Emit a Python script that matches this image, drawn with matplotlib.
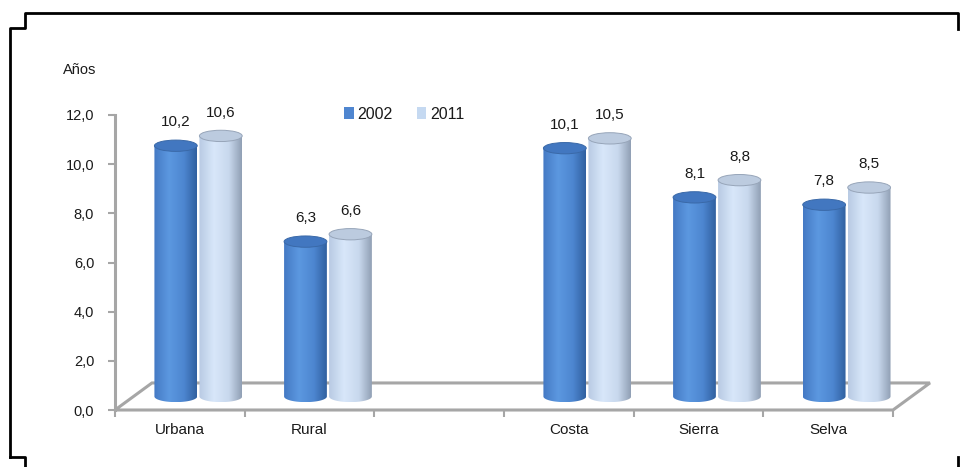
import numpy as np
import matplotlib
matplotlib.use("Agg")
import matplotlib.pyplot as plt
from matplotlib.patches import Polygon, Ellipse, PathPatch, Patch
from matplotlib.path import Path
from matplotlib.colors import LinearSegmentedColormap
from matplotlib.lines import Line2D

plt.rcParams['font.family'] = ['Liberation Sans', 'DejaVu Sans']

categories = ['Urbana', 'Rural', '', 'Costa', 'Sierra', 'Selva']
anos_2002 = [10.2, 6.3, None, 10.1, 8.1, 7.8]
anos_2011 = [10.6, 6.6, None, 10.5, 8.8, 8.5]
series_names = ['2002', '2011']
y_ticks = [0, 2, 4, 6, 8, 10, 12]

W, H = 960, 467
fig = plt.figure(figsize=(W / 100, H / 100), dpi=100)
fig.patch.set_facecolor('white')

# axes placed in pixels: x 115..893, y 410..115
ax = fig.add_axes([115 / W, (H - 410) / H, 778 / W, 295 / H])
ax.set_xlim(0, 6)
ax.set_ylim(0, 12)
ax.patch.set_alpha(0)

# depth of the 3d floor, in data units
dx, dy = 0.285, 1.10
grey = '#a6a6a6'
txt = '#1a1a1a'

floor = Polygon([(0, 0), (6, 0), (6 + dx, dy), (dx, dy)], closed=True,
                facecolor='white', edgecolor=grey, linewidth=2.2,
                clip_on=False, zorder=1)
ax.add_patch(floor)

for s in ['top', 'right', 'bottom']:
    ax.spines[s].set_visible(False)
ax.spines['left'].set_color(grey)
ax.spines['left'].set_linewidth(2.2)

ax.set_yticks(y_ticks)
ax.set_yticklabels([f'{v:.1f}'.replace('.', ',') for v in y_ticks],
                   fontsize=10.5, color=txt)
ax.set_xticks(np.arange(0, 7))
ax.set_xticklabels([])
ax.set_xticks(np.arange(6) + 0.5, minor=True)
ax.set_xticklabels(categories, minor=True, fontsize=11, color=txt)
ax.tick_params(axis='x', which='minor', length=0, pad=9)
ax.tick_params(axis='x', which='major', length=5, width=1.5, color=grey,
               direction='out')
ax.tick_params(axis='y', length=5, width=1.5, color=grey, pad=10)

c2002 = LinearSegmentedColormap.from_list('c2002', [
    (0.0, '#4479c4'), (0.35, '#5c98e0'), (0.7, '#4d86d0'), (1.0, '#30609f')])
c2011 = LinearSegmentedColormap.from_list('c2011', [
    (0.0, '#b8cae3'), (0.35, '#d8e7fa'), (0.7, '#c8d8ed'), (1.0, '#909fb4')])
styles = [
    dict(cmap=c2002, top='#4277c0', edge='#3a69a8'),
    dict(cmap=c2011, top='#bccbdf', edge='#97a5b9'),
]

bar_w = 0.33
bar_gap = 0.347
eh = 0.23  # half height of the ellipse caps
base = dy / 2
grad = np.linspace(0, 1, 256).reshape(1, -1)


def cylinder(xc, h, st):
    x0, x1 = xc - bar_w / 2, xc + bar_w / 2
    t = np.linspace(np.pi, 2 * np.pi, 40)
    arc = np.column_stack([xc + bar_w / 2 * np.cos(t), base + eh * np.sin(t)])
    verts = np.vstack([[(x0, base + h)], arc, [(x1, base + h), (x0, base + h)]])
    body = PathPatch(Path(verts, closed=True), facecolor='none',
                     edgecolor='none', zorder=3)
    ax.add_patch(body)
    im = ax.imshow(grad, cmap=st['cmap'], aspect='auto',
                   extent=[x0, x1, base - eh, base + h],
                   interpolation='bicubic', zorder=3)
    im.set_clip_path(body)
    cap = Ellipse((xc, base + h), bar_w, 2 * eh, facecolor=st['top'],
                  edgecolor=st['edge'], linewidth=0.7, zorder=4)
    ax.add_patch(cap)


for i, cat in enumerate(categories):
    center = i + 0.5 + dx / 2
    for k, vals in enumerate([anos_2002, anos_2011]):
        v = vals[i]
        if v is None:
            continue
        xc = center + (k - 0.5) * bar_gap
        cylinder(xc, v, styles[k])
        ax.text(xc, base + v + 0.95, f'{v:.1f}'.replace('.', ','),
                ha='center', va='center', fontsize=11, color=txt)

ax.set_xlim(0, 6)
ax.set_ylim(0, 12)

# legend
handles = [Patch(facecolor='#4f86d0', edgecolor='none'),
           Patch(facecolor='#c5d9f1', edgecolor='none')]
fig.legend(handles, series_names, loc='center left',
           bbox_to_anchor=(336 / W, 1 - 114 / H), ncol=2, frameon=False,
           fontsize=11.5, handlelength=0.6, handleheight=0.7,
           handletextpad=0.25, columnspacing=1.5, borderpad=0,
           labelcolor=txt)

fig.text(63 / W, 1 - 70 / H, 'Años', fontsize=10.5, ha='left', va='center',
         color=txt)

# outer frame
segs = [
    [(10, 457), (10, 28), (25, 28), (25, 13), (958, 13), (958, 29)],
    [(10, 457), (25, 457), (25, 467)],
    [(958, 457), (958, 467)],
]
for seg in segs:
    xs = [p[0] / W for p in seg]
    ys = [1 - p[1] / H for p in seg]
    fig.add_artist(Line2D(xs, ys, color='black', linewidth=2,
                          transform=fig.transFigure))

fig.savefig('out.png', dpi=100)
